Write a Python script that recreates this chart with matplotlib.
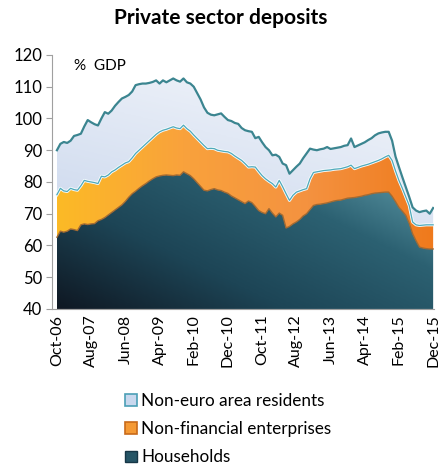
import numpy as np
import matplotlib
matplotlib.use("Agg")
import matplotlib.pyplot as plt
from matplotlib.colors import LinearSegmentedColormap
from matplotlib.patches import Patch

plt.rcParams['font.family'] = ['Lato', 'DejaVu Sans']

# monthly, Oct-06 .. Dec-15, % of GDP (stack levels)
households = [
    62.6, 64.5, 64.2, 64.5, 65.2, 65.0, 64.7, 66.5, 66.8, 66.6,
    66.8, 66.9, 67.8, 68.2, 68.8, 69.6, 70.4, 71.2, 72.0, 72.8,
    73.9, 75.2, 76.3, 77.1, 78.0, 78.8, 79.5, 80.3, 81.0, 81.6,
    81.9, 82.1, 82.2, 82.1, 82.0, 82.2, 82.1, 83.2, 82.6, 82.0,
    81.0, 79.8, 78.6, 77.4, 77.2, 77.6, 77.9, 77.5, 77.3, 76.8,
    76.4, 75.6, 75.0, 74.4, 73.8, 73.2, 74.0, 73.5, 72.3, 71.0,
    70.4, 70.0, 71.6, 70.2, 69.0, 70.2, 69.5, 65.5, 66.0, 66.8,
    67.4, 68.2, 69.3, 70.0, 71.3, 72.6, 72.9, 73.0, 73.2, 73.4,
    73.7, 74.0, 74.2, 74.3, 74.6, 74.9, 75.0, 75.1, 75.3, 75.5,
    75.8, 76.0, 76.3, 76.5, 76.6, 76.7, 76.8, 76.8, 75.5, 73.8,
    72.0, 70.8, 69.5, 67.0, 63.7, 61.5, 59.5, 59.2, 59.0, 58.9,
    58.9,
]
hh_plus_nfe = [
    76.0, 78.0, 77.2, 77.0, 78.0, 77.6, 77.4, 78.8, 80.5, 80.2,
    80.0, 79.8, 79.5, 81.8, 81.6, 82.2, 83.2, 83.8, 84.6, 85.3,
    86.0, 86.4, 87.6, 89.0, 90.0, 91.0, 92.0, 93.0, 94.0, 95.0,
    95.8, 96.3, 96.6, 97.0, 97.4, 97.0, 96.8, 97.9, 96.8, 96.0,
    94.8, 93.7, 92.6, 91.5, 90.5, 90.6, 90.5, 90.0, 89.8, 89.6,
    89.5, 89.0, 88.2, 87.5, 86.8, 85.8, 84.7, 84.8, 84.7, 83.3,
    82.0, 81.0, 80.2, 79.5, 78.4, 80.5, 78.5, 76.3, 74.2, 75.8,
    76.8, 77.2, 77.6, 77.9, 81.0, 83.0, 83.2, 83.4, 83.6, 83.7,
    83.8, 84.0, 84.1, 84.2, 84.5, 84.8, 85.3, 84.2, 84.6, 85.0,
    85.3, 85.6, 86.0, 86.4, 86.8, 87.3, 87.9, 88.4, 86.8, 83.5,
    80.5, 78.0, 75.3, 72.6, 67.4, 66.5, 66.3, 66.4, 66.5, 66.5,
    66.5,
]
total = [
    90.0, 92.0, 92.6, 92.3, 93.0, 94.5, 94.8, 95.2, 97.5, 99.5,
    98.8, 98.2, 97.8, 100.0, 102.0, 101.5, 102.5, 104.0, 105.2, 106.3,
    106.8, 107.4, 108.5, 110.5, 110.8, 111.0, 111.0, 111.2, 111.5, 112.0,
    111.0, 112.0, 111.4, 112.0, 112.6, 112.0, 111.6, 112.6, 111.4, 111.0,
    110.0, 108.0, 106.0, 103.5, 101.8, 101.2, 101.0, 101.3, 101.6, 100.5,
    99.5, 99.2, 98.6, 98.3, 97.0, 96.3, 96.0, 95.8, 93.8, 94.2,
    92.5, 91.0, 90.0, 88.4, 88.6, 87.9, 85.8, 85.3, 82.6, 83.7,
    84.8, 85.8, 87.5, 89.0, 90.5, 90.2, 90.0, 90.3, 90.5, 91.0,
    90.4, 90.6, 90.8, 91.0, 91.4, 91.6, 93.7, 91.0, 91.5, 92.0,
    92.5, 93.2, 93.8, 94.7, 95.3, 95.6, 95.8, 95.8, 93.0, 88.0,
    84.7, 81.5, 78.4, 75.3, 72.0, 71.0, 70.5, 70.8, 71.0, 70.0,
    71.8,
]
tick_labels = ['Oct-06', 'Aug-07', 'Jun-08', 'Apr-09', 'Feb-10', 'Dec-10',
               'Oct-11', 'Aug-12', 'Jun-13', 'Apr-14', 'Feb-15', 'Dec-15']
series_names = ['Non-euro area residents', 'Non-financial enterprises', 'Households']

x = np.arange(len(total))
YMIN, YMAX = 40, 120


def gradient_layer(ax, lower, upper, colors, wx, wy, z):
    poly = ax.fill_between(x, lower, upper, facecolor='none', edgecolor='none', zorder=z)
    gx, gy = np.meshgrid(np.linspace(0, 1, 200), np.linspace(0, 1, 200))
    t = np.clip(wx * gx + wy * gy, 0, 1)
    cmap = LinearSegmentedColormap.from_list('g', colors)
    im = ax.imshow(cmap(t), extent=[x[0], x[-1], YMIN, YMAX], origin='lower',
                   aspect='auto', zorder=z, interpolation='bilinear')
    im.set_clip_path(poly.get_paths()[0], transform=ax.transData)
    return im


fig = plt.figure(figsize=(4.39, 4.66), dpi=100)
ax = fig.add_axes([0.118, 0.337, 0.871, 0.545])

gradient_layer(ax, YMIN, households,
               ['#0f1823', '#1d4556', '#2c6172', '#6aa7b4'], 0.55, 0.75, 1)
gradient_layer(ax, households, hh_plus_nfe,
               ['#fcba26', '#f9a23c', '#f49240', '#ef7a1c'], 1.0, 0.0, 2)
gradient_layer(ax, hh_plus_nfe, total,
               ['#c0cde8', '#d6e0f1', '#eef2f9'], 0.3, 0.9, 3)

ax.plot(x, households, color='#a36a32', lw=1.0, zorder=4)
ax.plot(x, hh_plus_nfe, color='#f4fbfd', lw=2.2, zorder=4)
ax.plot(x, hh_plus_nfe, color='#4fa9ba', lw=0.9, zorder=5)
ax.plot(x, total, color='#3b8590', lw=1.6, zorder=5)

ax.set_xlim(-1.5, 110.3)
ax.set_ylim(YMIN, YMAX)
ax.set_yticks(range(40, 121, 10))
ax.set_xticks(x[::10])
ax.set_xticklabels(tick_labels, rotation=90, fontsize=11.5)
ax.tick_params(axis='y', labelsize=12, length=4, color='#a0a0a0', pad=3)
ax.tick_params(axis='x', length=0, pad=4)
for side in ['top', 'right']:
    ax.spines[side].set_visible(False)
for side in ['left', 'bottom']:
    ax.spines[side].set_color('#a0a0a0')

ax.text(5, 116.5, '%  GDP', fontsize=11, ha='left', va='center')
fig.text(0.502, 0.962, 'Private sector deposits', fontsize=15, fontweight='bold',
         ha='center', va='center')

handles = [
    Patch(facecolor='#c9d8ee', edgecolor='#4b9fb6', lw=1.2),
    Patch(facecolor='#f59a35', edgecolor='#c86a1a', lw=1.2),
    Patch(facecolor='#255566', edgecolor='#163646', lw=1.0),
]
fig.legend(handles, series_names, loc='center', bbox_to_anchor=(0.52, 0.079),
           frameon=False, fontsize=12.3, handlelength=0.7, handleheight=0.7,
           handletextpad=0.25, labelspacing=0.72, alignment='left')

fig.savefig('out.png', dpi=100)
